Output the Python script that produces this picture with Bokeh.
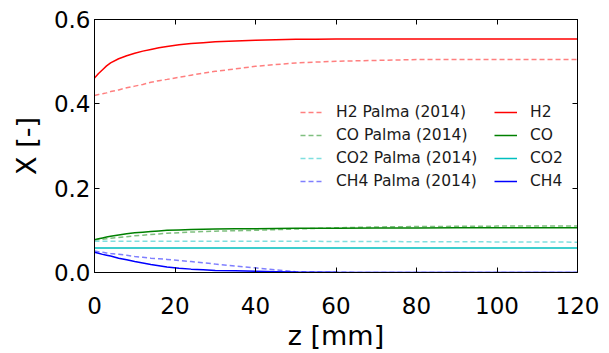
from bokeh.plotting import figure
from bokeh.models import Range1d, LinearAxis, FixedTicker, Legend, LegendItem, CustomLabelingPolicy
from bokeh.embed import file_html
from bokeh.resources import INLINE

# ---- data ----
z = [0, 1, 2, 3, 4, 6, 8, 10, 12, 14, 16, 18, 21, 24, 27, 30, 35, 40, 45, 50, 55, 60,
     70, 80, 90, 100, 110, 120]

h2_model = [0.461, 0.472, 0.481, 0.490, 0.497, 0.507, 0.514, 0.520, 0.525, 0.529, 0.533, 0.536,
            0.540, 0.543, 0.545, 0.547, 0.549, 0.551, 0.552, 0.553, 0.553, 0.554,
            0.554, 0.554, 0.554, 0.554, 0.554, 0.554]
co_model = [0.078, 0.080, 0.082, 0.084, 0.086, 0.089, 0.092, 0.094, 0.0955, 0.097, 0.0985, 0.100,
            0.101, 0.102, 0.1025, 0.103, 0.1035, 0.104, 0.1045, 0.105, 0.105, 0.105,
            0.1055, 0.1055, 0.106, 0.106, 0.106, 0.106]
co2_model = [0.058, 0.058, 0.058, 0.058, 0.058, 0.058, 0.058, 0.058, 0.058, 0.058, 0.058, 0.058,
             0.058, 0.058, 0.058, 0.058, 0.058, 0.058, 0.058, 0.058, 0.058, 0.058,
             0.058, 0.058, 0.058, 0.058, 0.058, 0.058]
ch4_model = [0.048, 0.0455, 0.043, 0.041, 0.039, 0.034, 0.030, 0.026, 0.0225, 0.019, 0.016, 0.013,
             0.010, 0.008, 0.0065, 0.005, 0.004, 0.003, 0.002, 0.001, 0.0006, 0.0003,
             0.0, 0.0, 0.0, 0.0, 0.0, 0.0]

h2_palma = [0.420, 0.422, 0.424, 0.426, 0.429, 0.433, 0.438, 0.442, 0.446, 0.451, 0.455, 0.458,
            0.463, 0.468, 0.473, 0.477, 0.483, 0.489, 0.493, 0.497, 0.499, 0.501,
            0.503, 0.505, 0.505, 0.505, 0.505, 0.505]
co_palma = [0.077, 0.078, 0.079, 0.080, 0.081, 0.083, 0.085, 0.087, 0.0885, 0.090, 0.0915, 0.093,
            0.0945, 0.096, 0.097, 0.098, 0.099, 0.100, 0.1015, 0.103, 0.1045, 0.106,
            0.108, 0.109, 0.1095, 0.110, 0.110, 0.110]
co2_palma = [0.074, 0.074, 0.074, 0.074, 0.074, 0.074, 0.074, 0.074, 0.074, 0.074, 0.074, 0.074,
             0.074, 0.074, 0.074, 0.074, 0.074, 0.074, 0.074, 0.074, 0.074, 0.0735,
             0.0735, 0.073, 0.073, 0.0725, 0.0722, 0.072]
ch4_palma = [0.051, 0.0495, 0.048, 0.0465, 0.045, 0.043, 0.041, 0.038, 0.036, 0.034, 0.0325, 0.031,
             0.0285, 0.026, 0.023, 0.020, 0.0155, 0.011, 0.0065, 0.002, 0.001, 0.0005,
             0.0, 0.0, 0.0, 0.0, 0.0, 0.0]

model_names = ["H2", "CO", "CO2", "CH4"]
palma_names = ["H2 Palma (2014)", "CO Palma (2014)", "CO2 Palma (2014)", "CH4 Palma (2014)"]
colors = ["#ff0000", "#008000", "#00bfbf", "#0000ff"]

x_ticks = [0, 20, 40, 60, 80, 100, 120]
y_ticks = [0.0, 0.2, 0.4, 0.6]
y_tick_labels = {0.0: "0.0", 0.2: "0.2", 0.4: "0.4", 0.6: "0.6"}

FONT = "DejaVu Sans"

p = figure(width=609, height=353, output_backend="svg", toolbar_location=None,
           x_range=Range1d(0, 120), y_range=Range1d(0, 0.6),
           min_border_left=94, min_border_right=32, min_border_top=19, min_border_bottom=80)
p.background_fill_color = "white"
p.border_fill_color = "white"
p.outline_line_color = "black"
p.xgrid.visible = False
p.ygrid.visible = False

palma_r = []
model_r = []
for ys, c in zip([h2_palma, co_palma, co2_palma, ch4_palma], colors):
    palma_r.append(p.line(z, ys, line_color=c, line_alpha=0.5, line_width=1.5, line_dash="5 3"))
for ys, c in zip([h2_model, co_model, co2_model, ch4_model], colors):
    model_r.append(p.line(z, ys, line_color=c, line_width=1.5))

def style_axis(ax, ticks, show_labels):
    ax.ticker = FixedTicker(ticks=ticks)
    ax.major_tick_in = 5
    ax.major_tick_out = 0
    ax.minor_tick_in = 0
    ax.minor_tick_out = 0
    ax.axis_line_color = "black"
    ax.major_tick_line_color = "black"
    ax.major_label_text_font = FONT
    ax.major_label_text_color = "black"
    if show_labels:
        ax.major_label_text_font_size = "23px"
    else:
        ax.major_label_text_font_size = "1px"
        ax.major_label_standoff = 0
        ax.major_label_policy = CustomLabelingPolicy(
            code="for (const i of indices) { indices.unset(i) }\nreturn indices")

xa = p.xaxis[0]
ya = p.yaxis[0]
style_axis(xa, x_ticks, True)
style_axis(ya, y_ticks, True)
ya.major_label_overrides = y_tick_labels
xa.major_label_standoff = 24
ya.major_label_standoff = 4
xa.axis_label = "z [mm]"
ya.axis_label = "X [-]"
for ax in (xa, ya):
    ax.axis_label_text_font = FONT
    ax.axis_label_text_font_size = "27px"
    ax.axis_label_text_font_style = "normal"
    ax.axis_label_text_color = "black"
xa.axis_label_standoff = 3
ya.axis_label_standoff = 9

top = LinearAxis()
right = LinearAxis()
style_axis(top, x_ticks, False)
style_axis(right, y_ticks, False)
p.add_layout(top, "above")
p.add_layout(right, "right")

def make_legend(names, rends, x, y):
    lg = Legend(items=[LegendItem(label=n, renderers=[r]) for n, r in zip(names, rends)],
                location=(x, y), orientation="vertical")
    lg.border_line_color = None
    lg.background_fill_alpha = 0
    lg.padding = 0
    lg.margin = 0
    lg.spacing = 3
    lg.glyph_width = 23
    lg.glyph_height = 20
    lg.label_height = 20
    lg.label_standoff = 13
    lg.label_text_font = FONT
    lg.label_text_font_size = "15.5px"
    lg.label_text_color = "#1a1a1a"
    p.add_layout(lg, "center")
    return lg

make_legend(palma_names, palma_r, 206, 81)
make_legend(model_names, model_r, 400, 81)

open("out.html", "w").write(file_html(p, INLINE))
